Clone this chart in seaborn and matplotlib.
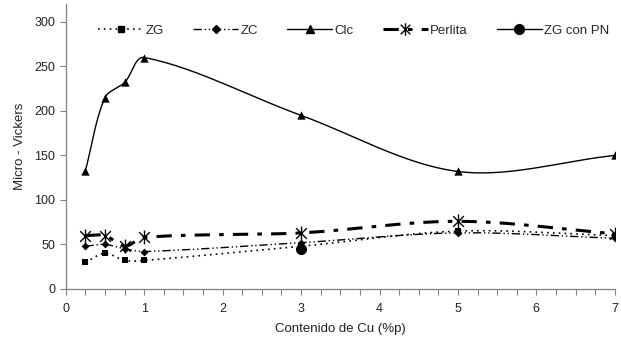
import numpy as np
import pandas as pd
import matplotlib
matplotlib.use("Agg")
import matplotlib.pyplot as plt
from matplotlib.lines import Line2D
from matplotlib.path import Path
import seaborn as sns

x_cu = [0.25, 0.5, 0.75, 1.0, 3.0, 5.0, 7.0]
zg = [30, 40, 32, 32, 48, 65, 60]
zc = [48, 50, 45, 42, 52, 63, 57]
clc = [133, 215, 232, 260, 195, 132, 150]
perlita = [60, 60, 48, 58, 63, 76, 62]
zgpn_x = [3.0]
zgpn_y = [45]

x_ticks = [0, 1, 2, 3, 4, 5, 6, 7]
y_ticks = [0, 50, 100, 150, 200, 250, 300]

sns.set_style("white")
plt.rcParams["font.family"] = ["Liberation Sans", "DejaVu Sans"]

fig = plt.figure(figsize=(6.21, 3.44), dpi=100)
ax = fig.add_axes([0.106, 0.160, 0.884, 0.828])
ax.set_xlim(0, 7)
ax.set_ylim(0, 320)

# smoothed line rendering (Excel-like), control points scaled by segment length
def smooth(xs, ys, sx=79.0, sy=0.89, n=30, tension=0.5):
    P = np.column_stack([np.array(xs) * sx, np.array(ys) * sy])
    out = [P[0]]
    for i in range(len(P) - 1):
        p0 = P[i - 1] if i > 0 else P[i]
        p1 = P[i]
        p2 = P[i + 1]
        p3 = P[i + 2] if i + 2 < len(P) else P[i + 1]
        d01 = np.linalg.norm(p1 - p0)
        d12 = np.linalg.norm(p2 - p1)
        d23 = np.linalg.norm(p3 - p2)
        f1 = d12 / (d01 + d12) if (d01 + d12) > 0 else 0
        f2 = d12 / (d12 + d23) if (d12 + d23) > 0 else 0
        c1 = p1 + (p2 - p0) * f1 * tension * 2 / 3
        c2 = p2 - (p3 - p1) * f2 * tension * 2 / 3
        t = np.linspace(0, 1, n)[1:, None]
        seg = ((1 - t) ** 3) * p1 + 3 * ((1 - t) ** 2) * t * c1 + 3 * (1 - t) * t ** 2 * c2 + t ** 3 * p2
        out.extend(seg)
    out = np.array(out)
    return out[:, 0] / sx, out[:, 1] / sy

star = Path([(-1, -1), (1, 1), (-1, 1), (1, -1), (0, -1.3), (0, 1.3)],
            [Path.MOVETO, Path.LINETO, Path.MOVETO, Path.LINETO, Path.MOVETO, Path.LINETO])

series = [
    ("ZG", zg, dict(ls=(0, (1, 2.5)), lw=1.2), "s", 5),
    ("ZC", zc, dict(ls=(0, (6, 2, 1, 2, 1, 2)), lw=1.0), "D", 4),
    ("Clc", clc, dict(ls="-", lw=1.0), "^", 6),
    ("Perlita", perlita, dict(ls=(0, (5, 3, 1.5, 3)), lw=2.2), star, 10),
]

for name, ys, lstyle, mk, ms in series:
    sx_, sy_ = smooth(x_cu, ys)
    sns.lineplot(x=sx_, y=sy_, ax=ax, color="black", sort=False, estimator=None, **lstyle)
    if mk is star:
        ax.plot(x_cu, ys, ls="none", marker=star, ms=ms, mec="black", mew=1.0, color="black")
    else:
        sns.scatterplot(x=x_cu, y=ys, ax=ax, marker=mk, s=ms ** 2, color="black", edgecolor="black", linewidth=0)

sns.scatterplot(x=zgpn_x, y=zgpn_y, ax=ax, marker="o", s=64, color="black", edgecolor="black", linewidth=0)

sns.despine(ax=ax)
for sp in ("left", "bottom"):
    ax.spines[sp].set_color("#808080")
    ax.spines[sp].set_linewidth(0.9)

ax.set_xticks(x_ticks)
ax.set_xticklabels([str(v) for v in x_ticks])
ax.set_xticks(np.arange(0, 7.01, 0.25), minor=True)
ax.set_yticks(y_ticks)
ax.set_yticklabels([str(v) for v in y_ticks])
ax.tick_params(axis="both", which="both", direction="out", length=4, width=0.8, color="#808080",
               labelsize=9, labelcolor="#222222", bottom=True, left=True)
ax.tick_params(axis="y", which="minor", left=False)
ax.tick_params(axis="x", pad=6)

ax.set_xlabel("Contenido de Cu (%p)", fontsize=9.5, color="#222222", labelpad=6)
ax.set_ylabel("Micro - Vickers", fontsize=9.5, color="#222222", labelpad=6)

handles = [
    Line2D([], [], color="black", ls=(0, (1, 2.5)), lw=1.2, marker="s", ms=5),
    Line2D([], [], color="black", ls=(0, (6, 2, 1, 2, 1, 2)), lw=1.0, marker="D", ms=4),
    Line2D([], [], color="black", ls="-", lw=1.0, marker="^", ms=6),
    Line2D([], [], color="black", ls=(0, (5, 3, 1.5, 3)), lw=2.2, marker=star, ms=9, mew=1.0),
    Line2D([], [], color="black", ls="-", lw=1.0, marker="o", ms=7),
]
labels = ["ZG", "ZC", "Clc", "Perlita", "ZG con PN"]
ax.legend(handles, labels, loc="upper center", bbox_to_anchor=(0.525, 0.97), ncol=5, frameon=False,
          fontsize=9.5, handlelength=3.4, columnspacing=2.2, handletextpad=0.2)

fig.savefig("out.png", dpi=100)
